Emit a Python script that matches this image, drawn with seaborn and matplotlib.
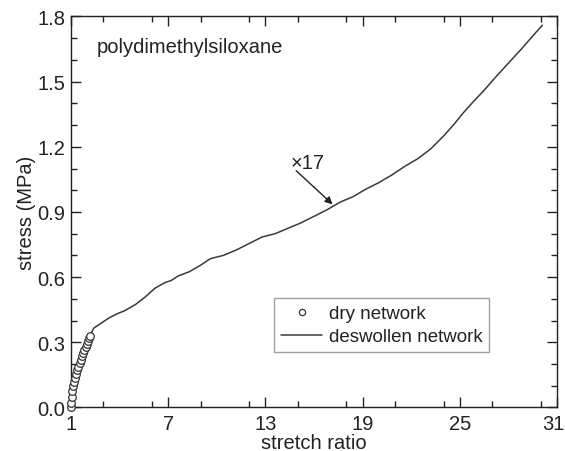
import matplotlib
matplotlib.use("Agg")
import matplotlib.pyplot as plt
import matplotlib.transforms as mtransforms
from matplotlib.lines import Line2D
from matplotlib.ticker import MultipleLocator
import seaborn as sns
import pandas as pd

# dry network (open circles)
dry_x = [1.00, 1.01, 1.03, 1.07, 1.12, 1.18, 1.25, 1.32, 1.39, 1.46,
         1.53, 1.60, 1.67, 1.74, 1.82, 1.90, 1.98, 2.06, 2.14, 2.20]
dry_y = [0.000, 0.022, 0.048, 0.075, 0.098, 0.118, 0.137, 0.155, 0.172, 0.188,
         0.204, 0.220, 0.236, 0.251, 0.266, 0.280, 0.294, 0.307, 0.319, 0.330]

# deswollen network (line)
des_x = [2.2, 2.4, 2.8, 3.3, 3.8, 4.3, 5.0, 5.6, 6.2, 6.8, 7.2, 7.6, 8.3, 9.0,
         9.6, 10.4, 11.2, 12.0, 12.8, 13.6, 14.4, 15.2, 16.0, 16.8, 17.6, 18.4,
         19.2, 20.0, 20.8, 21.6, 22.4, 23.2, 24.0, 24.6, 25.2, 25.8, 26.5, 27.2,
         28.0, 28.8, 29.5, 30.1]
des_y = [0.335, 0.365, 0.385, 0.410, 0.430, 0.445, 0.475, 0.510, 0.550, 0.575,
         0.585, 0.605, 0.625, 0.655, 0.685, 0.700, 0.725, 0.755, 0.785, 0.800,
         0.825, 0.850, 0.880, 0.910, 0.945, 0.970, 1.005, 1.035, 1.070, 1.110,
         1.145, 1.190, 1.250, 1.300, 1.355, 1.405, 1.460, 1.520, 1.585, 1.650,
         1.710, 1.760]

x_ticks = [1, 7, 13, 19, 25, 31]
y_ticks = [0.0, 0.3, 0.6, 0.9, 1.2, 1.5, 1.8]
legend_labels = ["dry network", "deswollen network"]

sns.set_style("ticks")
plt.rcParams['font.family'] = ['Liberation Sans', 'DejaVu Sans']

fig = plt.figure(figsize=(5.65, 4.52), dpi=100)
ax = fig.add_axes([0.1257, 0.0963, 0.8601, 0.8650])

df_dry = pd.DataFrame({"x": dry_x, "y": dry_y})
df_des = pd.DataFrame({"x": des_x, "y": des_y})

sns.lineplot(data=df_des, x="x", y="y", ax=ax, color="#3a3a3a", lw=1.1,
             sort=False, estimator=None)
sns.scatterplot(data=df_dry, x="x", y="y", ax=ax, marker="o", s=30,
                facecolor="white", edgecolor="#333333", linewidth=0.9, zorder=3,
                clip_on=False)

ax.set_xlim(1, 31)
ax.set_ylim(0, 1.8)
ax.set_xticks(x_ticks)
ax.set_xticklabels([str(t) for t in x_ticks])
ax.set_yticks(y_ticks)
ax.set_yticklabels([f"{t:.1f}" for t in y_ticks])
ax.xaxis.set_minor_locator(MultipleLocator(3))
ax.yaxis.set_minor_locator(MultipleLocator(0.1))
ax.tick_params(which="both", direction="in", top=True, right=True,
               labelsize=14.5, colors="#222222", width=1)
ax.tick_params(axis="x", which="major", length=7, pad=5)
ax.tick_params(axis="y", which="major", length=7, pad=4)
ax.tick_params(which="minor", length=4)
for sp in ax.spines.values():
    sp.set_color("#222222")
    sp.set_linewidth(1)

# nudge last x tick label slightly left so it stays inside the figure
last = ax.get_xticklabels()[-1]
last.set_transform(last.get_transform() +
                   mtransforms.ScaledTranslation(-4 / 100, 0, fig.dpi_scale_trans))

ax.set_xlabel("stretch ratio", fontsize=14.5, color="#222222", labelpad=0)
ax.set_ylabel("stress (MPa)", fontsize=14.5, color="#222222", labelpad=1)

ax.text(0.052, 0.924, "polydimethylsiloxane", transform=ax.transAxes,
        fontsize=14.5, color="#222222", ha="left", va="center")

ax.text(14.55, 1.126, "×17", fontsize=14.5, color="#222222", ha="left", va="center")
ax.annotate("", xy=(17.15, 0.935), xytext=(14.9, 1.09),
            arrowprops=dict(arrowstyle="-|>", color="#222222", lw=1.0,
                            mutation_scale=11, shrinkA=0, shrinkB=0))

handles = [
    Line2D([], [], ls="none", marker="o", markersize=4.5, markerfacecolor="white",
           markeredgecolor="#333333", markeredgewidth=0.9),
    Line2D([], [], color="#3a3a3a", lw=1.1),
]
leg = ax.legend(handles, legend_labels, loc="upper left",
                bbox_to_anchor=(0.4186, 0.2788), fontsize=13.5, frameon=True,
                fancybox=False, edgecolor="#888888", handlelength=2.2,
                handletextpad=0.35, borderpad=0.35, labelspacing=0.32,
                borderaxespad=0)
leg.get_frame().set_linewidth(1.0)
for t in leg.get_texts():
    t.set_color("#222222")

fig.savefig("out.png", dpi=100)
